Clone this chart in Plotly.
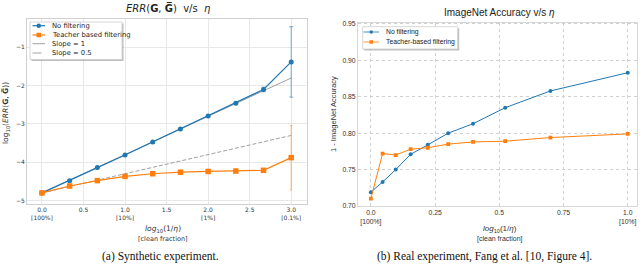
import plotly.graph_objects as go

W, H = 640, 268

# ---------------- data: (a) synthetic experiment ----------------
syn_x = [0, 1/3, 2/3, 1, 4/3, 5/3, 2, 7/3, 8/3, 3]
syn_nofilter = [-4.80, -4.48, -4.14, -3.81, -3.47, -3.13, -2.79, -2.46, -2.10, -1.38]
syn_nofilter_err = [0.02, 0.02, 0.02, 0.02, 0.02, 0.02, 0.02, 0.03, 0.06, 0.92]
syn_teacher = [-4.80, -4.62, -4.48, -4.37, -4.30, -4.26, -4.24, -4.23, -4.21, -3.88]
syn_teacher_err = [0.03, 0.03, 0.03, 0.04, 0.04, 0.04, 0.04, 0.05, 0.04, 0.84]
slope_x = [0, 3]
slope1_y = [-4.8, -1.8]
slope05_y = [-4.8, -3.3]
syn_xticks = [0, 0.5, 1, 1.5, 2, 2.5, 3]
syn_xticktext = ["0.0<br>[100%]", "0.5", "1.0<br>[10%]", "1.5", "2.0<br>[1%]", "2.5", "3.0<br>[0.1%]"]
syn_yticks = [-5, -4, -3, -2, -1]
syn_yticktext = ["\u22125", "\u22124", "\u22123", "\u22122", "\u22121"]

# ---------------- data: (b) real experiment ----------------
real_x = [0.0, 0.0458, 0.0969, 0.1549, 0.2218, 0.3010, 0.3979, 0.5229, 0.6990, 1.0]
real_nofilter = [0.719, 0.733, 0.750, 0.771, 0.784, 0.800, 0.813, 0.835, 0.858, 0.883]
real_teacher = [0.710, 0.772, 0.770, 0.778, 0.780, 0.785, 0.788, 0.789, 0.794, 0.799]
real_xticks = [0, 0.25, 0.5, 0.75, 1.0]
real_xticktext = ["0.0<br>[100%]", "0.25", "0.5", "0.75", "1.0<br>[10%]"]
real_yticks = [0.70, 0.75, 0.80, 0.85, 0.90, 0.95]
real_yticktext = ["0.70", "0.75", "0.80", "0.85", "0.90", "0.95"]

BLUE = "#1f77b4"
ORANGE = "#ff7f0e"
GRAY = "#a0a0a0"
F1 = "DejaVu Sans"
F2 = "Liberation Sans"
SERIF = "Liberation Serif"


def X(px):
    return px / W


def Y(py):
    return 1 - py / H


fig = go.Figure()

# (a)
fig.add_trace(go.Scatter(x=slope_x, y=slope1_y, mode="lines",
                         line=dict(color=GRAY, width=1), xaxis="x", yaxis="y", showlegend=False))
fig.add_trace(go.Scatter(x=slope_x, y=slope05_y, mode="lines",
                         line=dict(color=GRAY, width=1, dash="4px,2px"), xaxis="x", yaxis="y", showlegend=False))
fig.add_trace(go.Scatter(x=syn_x, y=syn_nofilter, mode="lines+markers",
                         line=dict(color=BLUE, width=1.2),
                         marker=dict(symbol="circle", size=5, color=BLUE),
                         error_y=dict(type="data", array=syn_nofilter_err, color="rgba(31,119,180,0.6)",
                                      thickness=1, width=2),
                         xaxis="x", yaxis="y", showlegend=False))
fig.add_trace(go.Scatter(x=syn_x, y=syn_teacher, mode="lines+markers",
                         line=dict(color=ORANGE, width=1.2),
                         marker=dict(symbol="square", size=5.5, color=ORANGE),
                         error_y=dict(type="data", array=syn_teacher_err, color="rgba(255,127,14,0.6)",
                                      thickness=1, width=1),
                         xaxis="x", yaxis="y", showlegend=False))

# (b)
fig.add_trace(go.Scatter(x=real_x, y=real_nofilter, mode="lines+markers",
                         line=dict(color=BLUE, width=1),
                         marker=dict(symbol="circle", size=4, color=BLUE),
                         xaxis="x2", yaxis="y2", showlegend=False))
fig.add_trace(go.Scatter(x=real_x, y=real_teacher, mode="lines+markers",
                         line=dict(color=ORANGE, width=1),
                         marker=dict(symbol="square", size=3.8, color=ORANGE),
                         xaxis="x2", yaxis="y2", showlegend=False))

tickf1 = dict(family=F1, size=6, color="#333333")
tickf2 = dict(family=F2, size=6.8, color="#333333")

fig.update_layout(
    width=W, height=H,
    margin=dict(l=0, r=0, t=0, b=0),
    paper_bgcolor="white", plot_bgcolor="white",
    xaxis=dict(domain=[X(27), X(307)], range=[-0.18, 3.19], tickvals=syn_xticks, ticktext=syn_xticktext,
               showgrid=True, gridcolor="#e8e8e8", gridwidth=1, zeroline=False,
               showline=True, linecolor="#d0d0d0", linewidth=1, mirror=True, automargin=False,
               ticks="", tickfont=tickf1, anchor="y"),
    yaxis=dict(domain=[Y(204), Y(19)], range=[-5.09, -0.26], tickvals=syn_yticks, ticktext=syn_yticktext,
               showgrid=True, gridcolor="#e8e8e8", gridwidth=1, zeroline=False,
               showline=True, linecolor="#d0d0d0", linewidth=1, mirror=True, automargin=False,
               ticks="", tickfont=tickf1, anchor="x"),
    xaxis2=dict(domain=[X(358), X(637)], range=[-0.05, 1.036], tickvals=real_xticks, ticktext=real_xticktext,
                showgrid=True, gridcolor="#d0d0d0", gridwidth=1, griddash="dot", zeroline=False,
                showline=True, linecolor="#d8d8d8", linewidth=1, mirror=True, automargin=False,
                ticks="", tickfont=tickf2, anchor="y2"),
    yaxis2=dict(domain=[Y(206), Y(22.5)], range=[0.70, 0.952], tickvals=real_yticks, ticktext=real_yticktext,
                showgrid=True, gridcolor="#d0d0d0", gridwidth=1, griddash="dot", zeroline=False,
                showline=True, linecolor="#d8d8d8", linewidth=1, mirror=True, automargin=False,
                ticks="", tickfont=tickf2, anchor="x2"),
)

ann = []
shapes = []


def text(x, y, s, size, family=F1, color="#333333", angle=0, xanchor="center", yanchor="middle"):
    ann.append(dict(x=X(x), y=Y(y), xref="paper", yref="paper", text=s, showarrow=False,
                    font=dict(family=family, size=size, color=color), textangle=angle,
                    xanchor=xanchor, yanchor=yanchor))


G_BAR = "<b>G\u0305</b>"
# titles
text(168, 8, "<i>ERR</i>(<b>G</b>, " + G_BAR + ")  v/s  <i>\u03b7</i>", 10, F1, "#222222")
text(499, 12.5, "ImageNet Accuracy v/s <i>\u03b7</i>", 10, F2, "#222222")
# y labels
text(6, 113, "log<sub>10</sub>(<i>ERR</i>(<b>G</b>, " + G_BAR + "))", 7.5, F1, angle=-90)
text(333, 114, "1 - ImageNet Accuracy", 7.5, F2, angle=-90)
# x labels
text(163, 229, "<i>log</i><sub>10</sub>(1/<i>\u03b7</i>)", 7.5, F1)
text(163, 238.5, "[clean fraction]", 6.5, F1)
text(500, 229, "<i>log</i><sub>10</sub>(1/<i>\u03b7</i>)", 8, F2)
text(500, 238.5, "[clean fraction]", 7, F2)
# captions
text(160, 256, "(a) Synthetic experiment.", 11.5, SERIF, "#111111")
text(484, 256, "(b) Real experiment, Fang et al. [10, Figure 4].", 11.5, SERIF, "#111111")


def legend_box(x0, y0, x1, y1):
    shapes.append(dict(type="rect", xref="paper", yref="paper", x0=X(x0 + 1.5), x1=X(x1 + 1.5),
                       y0=Y(y1 + 1.5), y1=Y(y0 + 1.5), line=dict(width=0), fillcolor="rgba(0,0,0,0.25)"))
    shapes.append(dict(type="rect", xref="paper", yref="paper", x0=X(x0), x1=X(x1),
                       y0=Y(y1), y1=Y(y0), line=dict(width=0.8, color="#cccccc"), fillcolor="white"))


def legend_entry(lx0, lx1, yc, color, dash, symbol, msize, label, tx, fsize, family, lw=1.2):
    shapes.append(dict(type="line", xref="paper", yref="paper", x0=X(lx0), x1=X(lx1), y0=Y(yc), y1=Y(yc),
                       line=dict(color=color, width=lw, dash=dash)))
    mx = (lx0 + lx1) / 2
    r = msize / 2
    if symbol == "circle":
        shapes.append(dict(type="circle", xref="paper", yref="paper", x0=X(mx - r), x1=X(mx + r),
                           y0=Y(yc + r), y1=Y(yc - r), line=dict(width=0), fillcolor=color))
    elif symbol == "square":
        shapes.append(dict(type="rect", xref="paper", yref="paper", x0=X(mx - r), x1=X(mx + r),
                           y0=Y(yc + r), y1=Y(yc - r), line=dict(width=0), fillcolor=color))
    text(tx, yc, label, fsize, family, "#222222", xanchor="left")


legend_box(30, 22, 122, 59.5)
legend_entry(32.5, 45, 25.7, BLUE, "solid", "circle", 4.5, "No filtering", 49.5, 6.8, F1)
legend_entry(32.5, 45, 35, ORANGE, "solid", "square", 4.5, "Teacher based filtering", 49.5, 6.8, F1)
legend_entry(32.5, 45, 43.7, GRAY, "solid", None, 0, "Slope = 1", 49.5, 6.8, F1, lw=1)
legend_entry(32.5, 45, 53, GRAY, "dash", None, 0, "Slope = 0.5", 49.5, 6.8, F1, lw=1)

legend_box(362.7, 26.7, 457.7, 49)
legend_entry(363.5, 379, 32, BLUE, "solid", "circle", 3.5, "No filtering", 384, 6.8, F2, lw=0.8)
legend_entry(363.5, 379, 42, ORANGE, "solid", "square", 3.5, "Teacher-based filtering", 384, 6.8, F2, lw=0.8)

fig.update_layout(annotations=ann, shapes=shapes)
fig.write_html("out.html", config={"displayModeBar": False},
               post_script="document.body.style.margin='0';document.body.style.padding='0';")
